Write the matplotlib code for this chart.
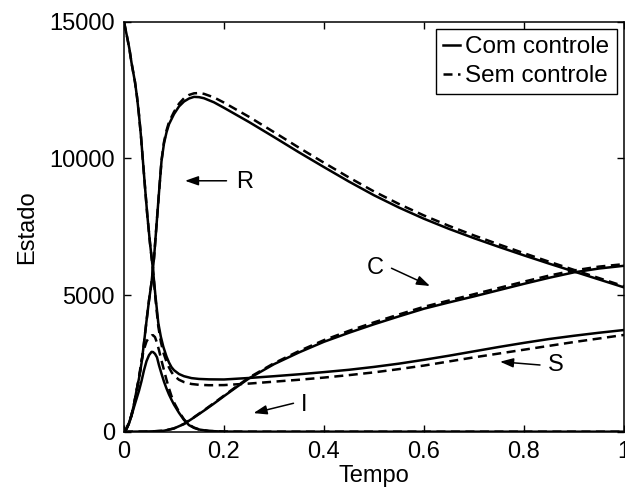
import matplotlib
matplotlib.use("Agg")
import matplotlib.pyplot as plt

plt.rcParams["font.family"] = ["Liberation Sans", "DejaVu Sans"]

# ---------------------------------------------------------------------------
# Data (t = tempo, values = estado)
# ---------------------------------------------------------------------------

# S: com controle / sem controle
t_s = [0, 0.005, 0.0106, 0.015, 0.022, 0.026, 0.03, 0.034, 0.0374, 0.042,
       0.0466, 0.052, 0.058, 0.063, 0.0686, 0.0736, 0.0786, 0.085, 0.09,
       0.095, 0.1, 0.11, 0.12, 0.135, 0.15, 0.17, 0.2, 0.25, 0.3, 0.35, 0.4,
       0.45, 0.5, 0.55, 0.6, 0.65, 0.7, 0.75, 0.8, 0.85, 0.9, 0.95, 1.0]
s_com = [15000, 14550, 14030, 13500, 12790, 12250, 11585, 10800, 10010, 8950,
         7925, 6900, 5915, 4950, 3976, 3480, 3110, 2750, 2530,
         2360, 2250, 2110, 2030, 1960, 1930, 1915, 1910, 1965, 2030, 2100, 2180,
         2265, 2370, 2490, 2630, 2780, 2940, 3100, 3250, 3390, 3510, 3620, 3720]
s_sem = [15000, 14550, 14030, 13500, 12790, 12250, 11585, 10800, 10010, 8950,
         7925, 6900, 5915, 4850, 3850, 3300, 2900, 2560, 2350,
         2180, 2050, 1900, 1815, 1745, 1715, 1700, 1705, 1760, 1830, 1900, 1980,
         2070, 2170, 2290, 2420, 2570, 2720, 2860, 3000, 3140, 3280, 3410, 3540]

# I
t_i = [0, 0.005, 0.01, 0.015, 0.02, 0.025, 0.03, 0.035, 0.04, 0.045, 0.05,
       0.055, 0.058, 0.062, 0.066, 0.07, 0.075, 0.08, 0.085, 0.09, 0.095,
       0.1, 0.11, 0.12, 0.13, 0.14, 0.15, 0.17, 0.2, 0.25, 0.5, 1.0]
i_com = [0, 120, 320, 580, 900, 1200, 1500, 1850, 2250, 2580, 2800,
         2920, 2915, 2850, 2720, 2430, 2120, 1830, 1580, 1360, 1170,
         990, 690, 430, 240, 140, 80, 25, 5, 0, 0, 0]
i_sem = [0, 120, 330, 620, 1000, 1450, 2000, 2600, 3020, 3300, 3450,
         3520, 3530, 3460, 3250, 2980, 2600, 2250, 1900, 1580, 1300,
         1070, 730, 450, 260, 150, 85, 28, 6, 0, 0, 0]

# R
t_r = [0, 0.005, 0.01, 0.015, 0.02, 0.025, 0.03, 0.035, 0.04, 0.045, 0.05,
       0.055, 0.06, 0.065, 0.07, 0.075, 0.08, 0.085, 0.09, 0.1, 0.11, 0.12,
       0.13, 0.14, 0.15, 0.16, 0.18, 0.2, 0.25, 0.3, 0.35, 0.4, 0.45, 0.5,
       0.55, 0.6, 0.65, 0.7, 0.75, 0.8, 0.85, 0.9, 0.95, 1.0]
r_com = [0, 100, 300, 600, 1000, 1500, 1950, 2500, 3250, 4050, 4800,
         5450, 6350, 7550, 8750, 9900, 10550, 10950, 11250, 11620, 11900, 12080,
         12190, 12250, 12240, 12200, 12050, 11850, 11330, 10780, 10220, 9680, 9150, 8650,
         8200, 7790, 7420, 7080, 6760, 6450, 6150, 5860, 5570, 5280]
r_sem = [0, 100, 300, 600, 1000, 1500, 1950, 2500, 3250, 4050, 4800,
         5450, 6350, 7550, 8750, 9920, 10600, 11020, 11330, 11700, 12000, 12200,
         12320, 12380, 12390, 12360, 12230, 12040, 11520, 10960, 10390, 9840, 9300, 8790,
         8330, 7910, 7530, 7180, 6850, 6530, 6220, 5920, 5620, 5320]

# C
t_c = [0, 0.04, 0.06, 0.08, 0.1, 0.12, 0.14, 0.16, 0.18, 0.2, 0.225, 0.25,
       0.3, 0.35, 0.4, 0.45, 0.5, 0.55, 0.6, 0.65, 0.7, 0.75, 0.8, 0.85,
       0.9, 0.95, 1.0]
c_com = [0, 5, 15, 35, 120, 280, 520, 770, 1030, 1300, 1630, 1950,
         2470, 2900, 3290, 3620, 3930, 4220, 4500, 4730, 4950, 5180, 5410, 5630,
         5830, 5970, 6070]
c_sem = [0, 5, 15, 35, 120, 285, 530, 785, 1050, 1320, 1655, 1980,
         2505, 2950, 3350, 3690, 4000, 4290, 4570, 4800, 5030, 5260, 5490, 5710,
         5900, 6040, 6130]

legend_labels = ["Com controle", "Sem controle"]
x_ticks = [0, 0.2, 0.4, 0.6, 0.8, 1]
x_ticklabels = ["0", "0.2", "0.4", "0.6", "0.8", "1"]
y_ticks = [0, 5000, 10000, 15000]

# curve labels: (text, text position, arrow tail, arrow tip)
curve_notes = [
    ("R", (0.242, 9150), (0.205, 9180), (0.122, 9180)),
    ("I", (0.36, 980), (0.339, 1040), (0.259, 680)),
    ("C", (0.502, 5980), (0.535, 5980), (0.612, 5330)),
    ("S", (0.864, 2440), (0.832, 2440), (0.752, 2560)),
]

# ---------------------------------------------------------------------------
# Figure
# ---------------------------------------------------------------------------

fig = plt.figure(figsize=(6.25, 4.9), dpi=100)
ax = fig.add_axes([0.1984, 0.1190, 0.8000, 0.8367])

solid = dict(color="black", linewidth=1.8, linestyle="-")
dashed = dict(color="black", linewidth=1.8, linestyle=(0, (3.6, 2.2)))

ax.plot(t_s, s_com, label=legend_labels[0], **solid)
ax.plot(t_s, s_sem, label=legend_labels[1], **dashed)
for t, com, sem in [(t_i, i_com, i_sem), (t_r, r_com, r_sem), (t_c, c_com, c_sem)]:
    ax.plot(t, com, **solid)
    ax.plot(t, sem, **dashed)

for txt, pos, tail, tip in curve_notes:
    ax.annotate("", xy=tip, xytext=tail,
                arrowprops=dict(arrowstyle="-|>,head_length=0.8,head_width=0.28",
                                color="black", lw=1.1, shrinkA=0, shrinkB=0))
    ax.text(pos[0], pos[1], txt, fontsize=17, ha="center", va="center")

ax.set_xlim(0, 1)
ax.set_ylim(0, 15000)
ax.set_xticks(x_ticks)
ax.set_xticklabels(x_ticklabels)
ax.set_yticks(y_ticks)
ax.tick_params(direction="in", length=5, width=1, top=True, right=True,
               labelsize=17, pad=6.5)
for sp in ax.spines.values():
    sp.set_linewidth(1.1)

ax.set_xlabel("Tempo", fontsize=17)
ax.set_ylabel("Estado", fontsize=17)
ax.xaxis.set_label_coords(0.5, -0.082)
ax.yaxis.set_label_coords(-0.172, 0.5)

leg = ax.legend(loc="upper right", fontsize=17.5, handlelength=0.7,
                handletextpad=0.2, borderaxespad=0.3, borderpad=0.3,
                labelspacing=0.28, fancybox=False, framealpha=1)
leg.get_frame().set_edgecolor("black")
leg.get_frame().set_linewidth(1.0)

fig.savefig("out.png", dpi=100)
